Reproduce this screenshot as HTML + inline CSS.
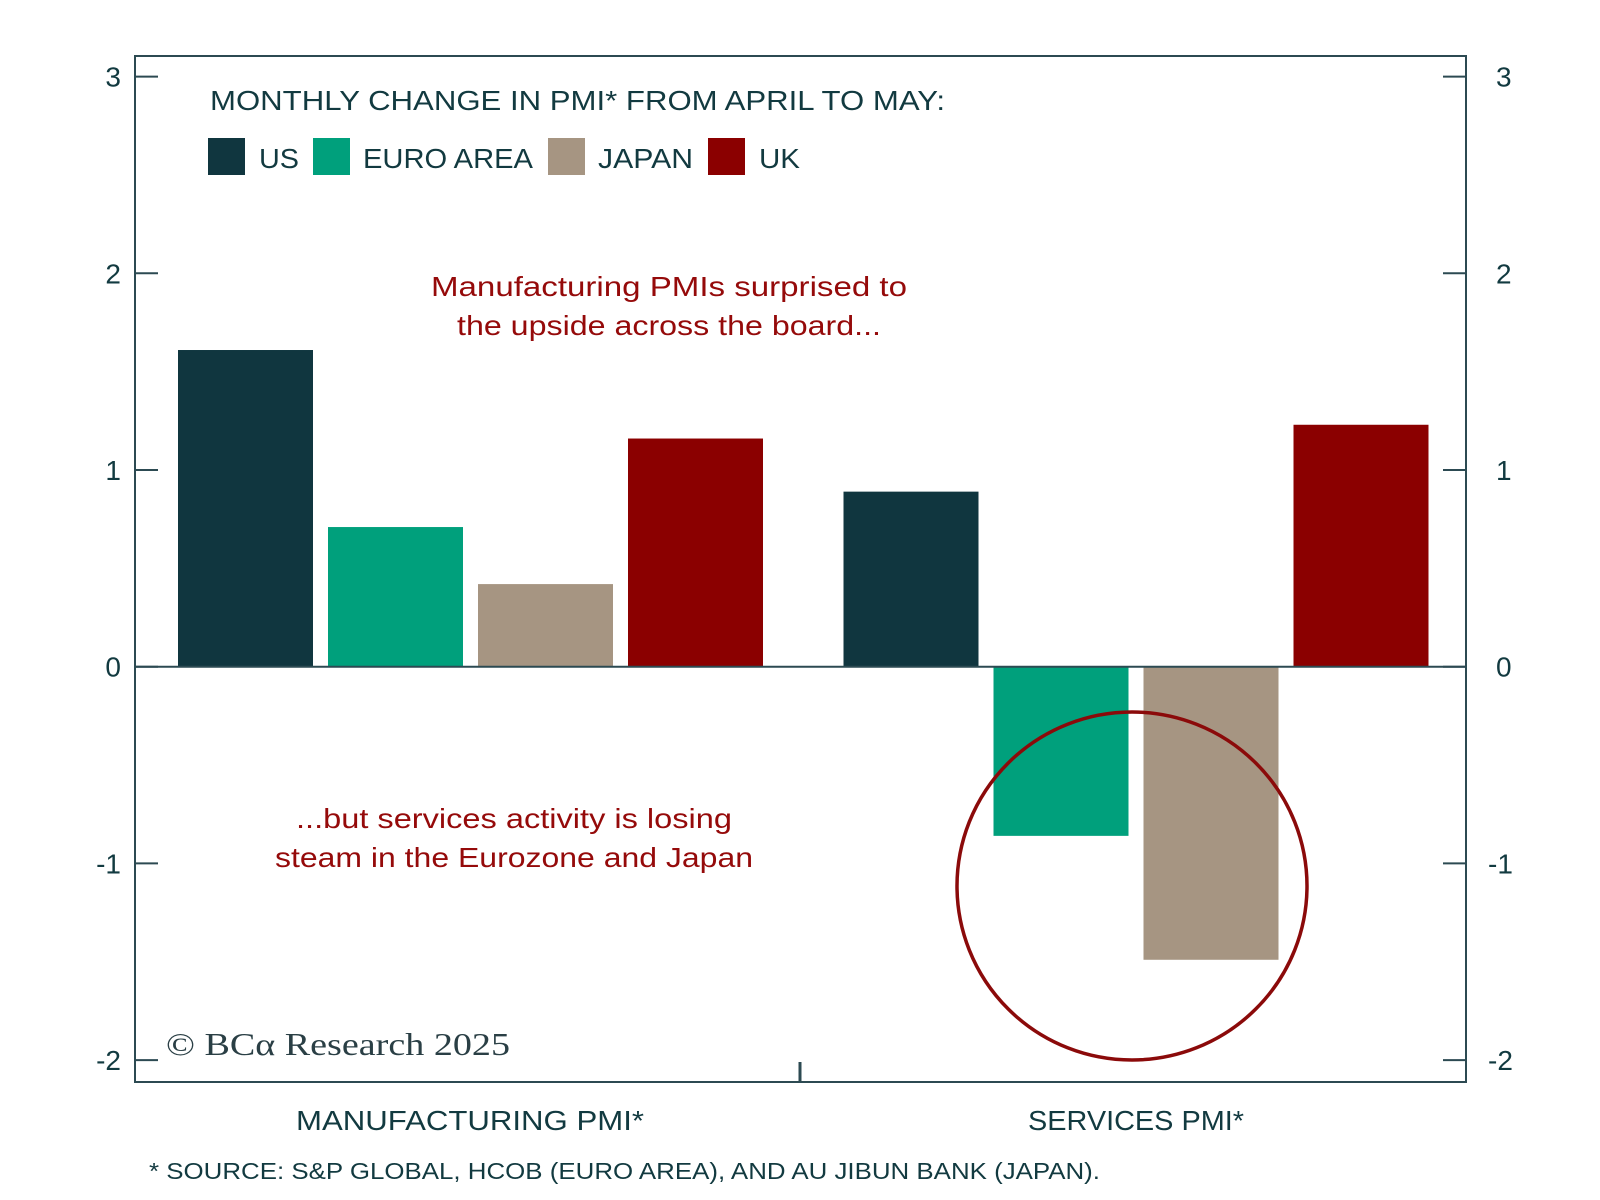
<!DOCTYPE html>
<html><head><meta charset="utf-8"><style>
html,body{margin:0;padding:0;background:#fff;}
svg{display:block;font-family:"Liberation Sans",sans-serif;}
</style></head><body>
<svg id="chart" width="1600" height="1200" viewBox="0 0 1600 1200">
<rect x="0" y="0" width="1600" height="1200" fill="#fff"/>
<g id="bars"></g>
<g id="axes"></g>
<text x="210" y="110" font-size="28" fill="#123a40" textLength="735" lengthAdjust="spacingAndGlyphs">MONTHLY CHANGE IN PMI* FROM APRIL TO MAY:</text>
<g>
<rect x="208" y="138" width="37" height="37" fill="#10363f"/>
<text x="259" y="168" font-size="28" fill="#123a40" textLength="40" lengthAdjust="spacingAndGlyphs">US</text>
<rect x="313" y="138" width="37" height="37" fill="#00a07c"/>
<text x="363" y="168" font-size="28" fill="#123a40" textLength="170" lengthAdjust="spacingAndGlyphs">EURO AREA</text>
<rect x="548" y="138" width="37" height="37" fill="#a69582"/>
<text x="598" y="168" font-size="28" fill="#123a40" textLength="95" lengthAdjust="spacingAndGlyphs">JAPAN</text>
<rect x="708" y="138" width="37" height="37" fill="#8b0000"/>
<text x="759" y="168" font-size="28" fill="#123a40" textLength="41" lengthAdjust="spacingAndGlyphs">UK</text>
</g>
<g fill="#950a0a" font-size="28" text-anchor="middle">
<text x="669" y="296" textLength="476" lengthAdjust="spacingAndGlyphs">Manufacturing PMIs surprised to</text>
<text x="669" y="335" textLength="424" lengthAdjust="spacingAndGlyphs">the upside across the board...</text>
</g>
<g fill="#950a0a" font-size="28" text-anchor="middle">
<text x="514" y="828" textLength="436" lengthAdjust="spacingAndGlyphs">...but services activity is losing</text>
<text x="514" y="867" textLength="478" lengthAdjust="spacingAndGlyphs">steam in the Eurozone and Japan</text>
</g>
<ellipse cx="1132" cy="886" rx="175" ry="174" fill="none" stroke="#8b0a0a" stroke-width="3.5"/>
<text x="166" y="1055" font-size="32" fill="#2a3f45" font-family="Liberation Serif, serif" textLength="344" lengthAdjust="spacingAndGlyphs">© BCα Research 2025</text>
<text x="470" y="1130" font-size="28" fill="#123a40" text-anchor="middle" textLength="348" lengthAdjust="spacingAndGlyphs">MANUFACTURING PMI*</text>
<text x="1136" y="1130" font-size="28" fill="#123a40" text-anchor="middle" textLength="216" lengthAdjust="spacingAndGlyphs">SERVICES PMI*</text>
<text x="149" y="1179" font-size="23" fill="#123a40" textLength="951" lengthAdjust="spacingAndGlyphs">* SOURCE: S&amp;P GLOBAL, HCOB (EURO AREA), AND AU JIBUN BANK (JAPAN).</text>
</svg>
<script>
const categories = ["Manufacturing PMI*", "Services PMI*"];
const seriesNames = ["US", "Euro Area", "Japan", "UK"];
const usValues = [1.61, 0.89];
const euroValues = [0.71, -0.86];
const japanValues = [0.42, -1.49];
const ukValues = [1.16, 1.23];
const yTicks = [3, 2, 1, 0, -1, -2];
const yTickLabels = ["3", "2", "1", "0", "-1", "-2"];

const NS = "http://www.w3.org/2000/svg";
const plotLeft = 135, plotRight = 1466, plotTop = 56, plotBottom = 1082;
const colors = ["#10363f", "#00a07c", "#a69582", "#8b0000"];
const series = [usValues, euroValues, japanValues, ukValues];
function yScale(v){ return 666.7 - v * 196.7; }
const band = (plotRight - plotLeft) / categories.length;
function xBar(ci, si){ return plotLeft + ci * band + 43 + si * 150; }
const barW = 135;

const barsG = document.getElementById('bars');
series.forEach((vals, si) => {
  vals.forEach((v, ci) => {
    const r = document.createElementNS(NS, 'rect');
    r.setAttribute('x', xBar(ci, si));
    r.setAttribute('y', Math.min(yScale(v), yScale(0)));
    r.setAttribute('width', barW);
    r.setAttribute('height', Math.abs(yScale(v) - yScale(0)));
    r.setAttribute('fill', colors[si]);
    
    
    barsG.appendChild(r);
  });
});

const ax = document.getElementById('axes');
function drawLine(x1, y1, x2, y2, w, name){
  const l = document.createElementNS(NS, 'line');
  l.setAttribute('x1', x1); l.setAttribute('y1', y1);
  l.setAttribute('x2', x2); l.setAttribute('y2', y2);
  l.setAttribute('stroke', '#2c4a52'); l.setAttribute('stroke-width', w);
  
  
  ax.appendChild(l);
}
const frame = document.createElementNS(NS, 'rect');
frame.setAttribute('x', plotLeft); frame.setAttribute('y', plotTop);
frame.setAttribute('width', plotRight - plotLeft); frame.setAttribute('height', plotBottom - plotTop);
frame.setAttribute('fill', 'none'); frame.setAttribute('stroke', '#2c4a52'); frame.setAttribute('stroke-width', 2);


ax.appendChild(frame);
drawLine(plotLeft, yScale(0), plotRight, yScale(0), 2, 'zero-line');
drawLine(800, plotBottom, 800, plotBottom - 20, 3, 'category-divider-tick');
yTicks.forEach((t, i) => {
  drawLine(plotLeft, yScale(t), plotLeft + 23, yScale(t), 2, 'y-tick-left');
  drawLine(plotRight - 23, yScale(t), plotRight, yScale(t), 2, 'y-tick-right');
  const a = document.createElementNS(NS, 'text');
  a.setAttribute('x', 121); a.setAttribute('y', yScale(t) + 10);
  a.setAttribute('text-anchor', 'end'); a.setAttribute('font-size', 28); a.setAttribute('fill', '#123a40');
  a.textContent = yTickLabels[i];
  
  
  ax.appendChild(a);
  const b = document.createElementNS(NS, 'text');
  b.setAttribute('x', t < 0 ? 1488 : 1496); b.setAttribute('y', yScale(t) + 10);
  b.setAttribute('font-size', 28); b.setAttribute('fill', '#123a40');
  b.textContent = yTickLabels[i];
  
  
  ax.appendChild(b);
});
</script>
</body></html>
